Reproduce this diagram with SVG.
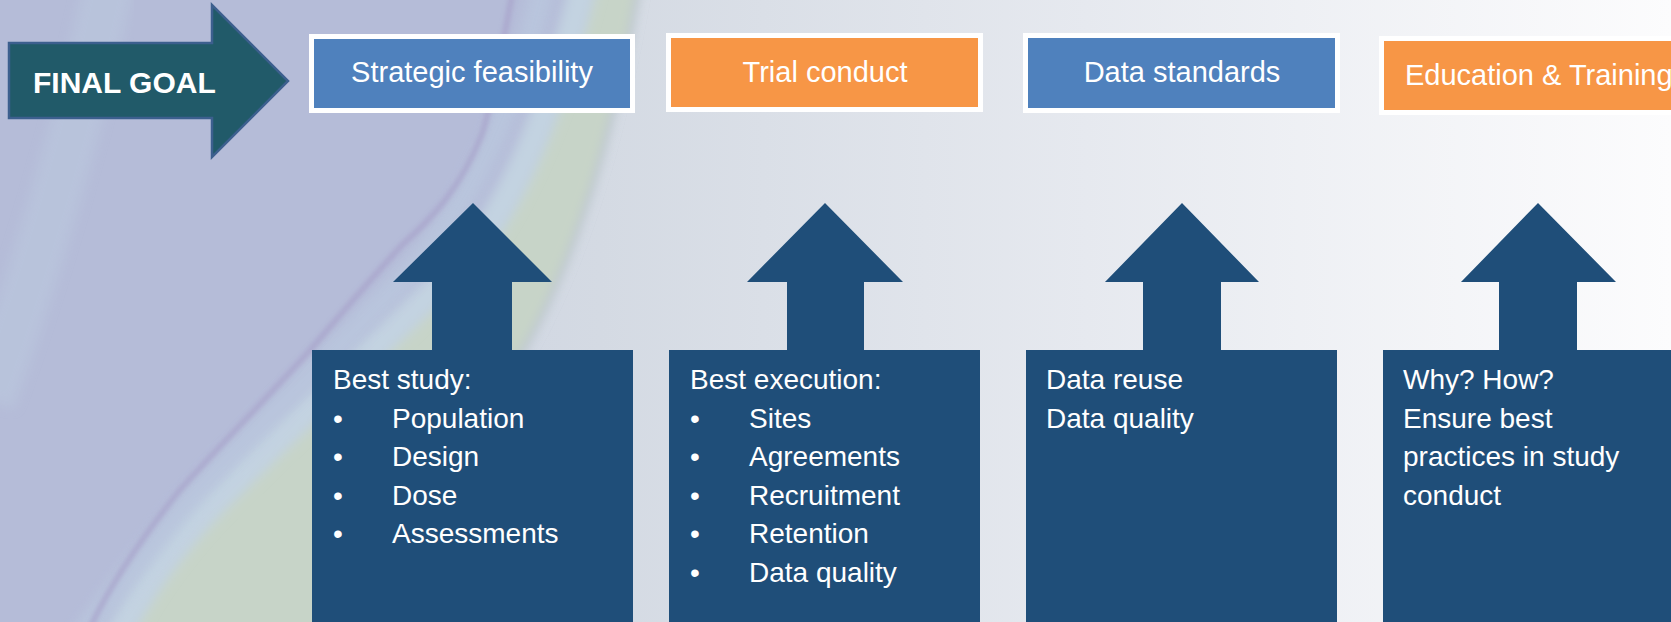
<svg xmlns="http://www.w3.org/2000/svg" width="1671" height="622" viewBox="0 0 1671 622">
  <defs>
    <linearGradient id="bg" x1="0" y1="0" x2="1" y2="0">
      <stop offset="0" stop-color="#c4cbe0"/>
      <stop offset="0.36" stop-color="#d4dae3"/>
      <stop offset="0.65" stop-color="#e6e9ef"/>
      <stop offset="1" stop-color="#fcfcfd"/>
    </linearGradient>
    <filter id="blur" x="-20%" y="-20%" width="140%" height="140%">
      <feGaussianBlur stdDeviation="6"/>
    </filter>
    <filter id="blur2" x="-20%" y="-20%" width="140%" height="140%">
      <feGaussianBlur stdDeviation="2"/>
    </filter>
    <style>
      .hdr { font-family: "Liberation Sans", Arial, sans-serif; font-size: 29px; fill: #ffffff; }
      .body { font-family: "Liberation Sans", Arial, sans-serif; font-size: 28px; fill: #ffffff; }
      .goalbox { stroke: #ffffff; stroke-width: 5; }
      .blue { fill: #4f81bd; }
      .orange { fill: #f79646; }
      .pillar { fill: #1f4e79; }
    </style>
  </defs>

  <!-- background -->
  <rect x="0" y="0" width="1671" height="622" fill="url(#bg)"/>
  <g id="swirl">
    <!-- lavender left region -->
    <path d="M-20,-20 L640,-20 C620,100 590,220 540,320 C490,420 400,520 330,640 L-20,640 Z" fill="#b5bcd8" filter="url(#blur)"/>
    <!-- green band along the right edge -->
    <path d="M640,-20 C620,100 590,220 540,320 C490,420 400,520 330,640 L120,640 C150,580 190,530 230,491 C300,420 400,330 470,260 C520,200 560,100 590,-20 Z" fill="#c7d4c8" filter="url(#blur)"/>
    <!-- pale blue strip along inner edge of green -->
    <path d="M585,-20 C555,100 515,200 465,260 C395,330 295,420 225,491 C185,530 145,580 115,640" fill="none" stroke="#c3d3e1" stroke-width="28" filter="url(#blur)"/>
    <!-- light blue band inside lavender -->
    <path d="M545,-20 C515,110 470,200 420,260 C340,350 240,440 180,510 C140,560 100,610 80,640" fill="none" stroke="#bac7de" stroke-width="24" filter="url(#blur)" opacity="0.8"/>
    <!-- faint purple streak -->
    <path d="M513,-10 C500,60 490,110 482,134 C460,190 430,220 402,245 C370,280 340,315 312,348 C270,395 220,445 179,491 C140,540 110,585 89,630" fill="none" stroke="#a8a3cb" stroke-width="6" filter="url(#blur2)" opacity="0.7"/>
    <!-- light streak at top-left -->
    <path d="M110,-20 C80,120 40,260 -10,400" fill="none" stroke="#bccadf" stroke-width="50" filter="url(#blur)" opacity="0.5"/>
  </g>

  <!-- final goal -->
  <g id="final-goal">
    <polygon points="9,43 212,43 212,5 288,81 212,157 212,118 9,118" fill="#215a69" stroke="#3c5f8e" stroke-width="2.5"/>
    <text x="33" y="93" font-family="Liberation Sans, Arial, sans-serif" font-weight="bold" font-size="30" fill="#ffffff">FINAL GOAL</text>
  </g>

  <!-- top goal boxes -->
  <g id="goal-strategic">
    <rect class="goalbox blue" x="311.5" y="36.5" width="321" height="74"/>
    <text class="hdr" x="472" y="82" text-anchor="middle">Strategic feasibility</text>
  </g>
  <g id="goal-trial">
    <rect class="goalbox orange" x="668.5" y="35.5" width="312" height="74"/>
    <text class="hdr" x="825" y="82" text-anchor="middle">Trial conduct</text>
  </g>
  <g id="goal-data">
    <rect class="goalbox blue" x="1025.5" y="35.5" width="312" height="75"/>
    <text class="hdr" x="1182" y="82" text-anchor="middle">Data standards</text>
  </g>
  <g id="goal-education">
    <rect class="goalbox orange" x="1381.5" y="38.5" width="330" height="74"/>
    <text class="hdr" x="1405" y="85">Education &amp; Training</text>
  </g>

  <!-- connectors: up arrows -->
  <g id="connectors">
    <polygon class="pillar" points="473,203 552,282 512,282 512,352 432,352 432,282 393,282"/>
    <polygon class="pillar" points="825,203 903,282 864,282 864,352 787,352 787,282 747,282"/>
    <polygon class="pillar" points="1182,203 1259,282 1221,282 1221,352 1143,352 1143,282 1105,282"/>
    <polygon class="pillar" points="1538,203 1616,282 1577,282 1577,352 1499,352 1499,282 1461,282"/>
  </g>

  <!-- lower boxes -->
  <g id="box-study">
    <rect class="pillar" x="312" y="350" width="321" height="280"/>
    <text class="body" x="333" y="389">Best study:</text>
    <text class="body" x="333" y="427.5">•</text><text class="body" x="392" y="427.5">Population</text>
    <text class="body" x="333" y="466">•</text><text class="body" x="392" y="466">Design</text>
    <text class="body" x="333" y="504.5">•</text><text class="body" x="392" y="504.5">Dose</text>
    <text class="body" x="333" y="543">•</text><text class="body" x="392" y="543">Assessments</text>
  </g>
  <g id="box-execution">
    <rect class="pillar" x="669" y="350" width="311" height="280"/>
    <text class="body" x="690" y="389">Best execution:</text>
    <text class="body" x="690" y="427.5">•</text><text class="body" x="749" y="427.5">Sites</text>
    <text class="body" x="690" y="466">•</text><text class="body" x="749" y="466">Agreements</text>
    <text class="body" x="690" y="504.5">•</text><text class="body" x="749" y="504.5">Recruitment</text>
    <text class="body" x="690" y="543">•</text><text class="body" x="749" y="543">Retention</text>
    <text class="body" x="690" y="581.5">•</text><text class="body" x="749" y="581.5">Data quality</text>
  </g>
  <g id="box-data">
    <rect class="pillar" x="1026" y="350" width="311" height="280"/>
    <text class="body" x="1046" y="389">Data reuse</text>
    <text class="body" x="1046" y="427.5">Data quality</text>
  </g>
  <g id="box-education">
    <rect class="pillar" x="1383" y="350" width="300" height="280"/>
    <text class="body" x="1403" y="389">Why? How?</text>
    <text class="body" x="1403" y="427.5">Ensure best</text>
    <text class="body" x="1403" y="466">practices in study</text>
    <text class="body" x="1403" y="504.5">conduct</text>
  </g>
</svg>
